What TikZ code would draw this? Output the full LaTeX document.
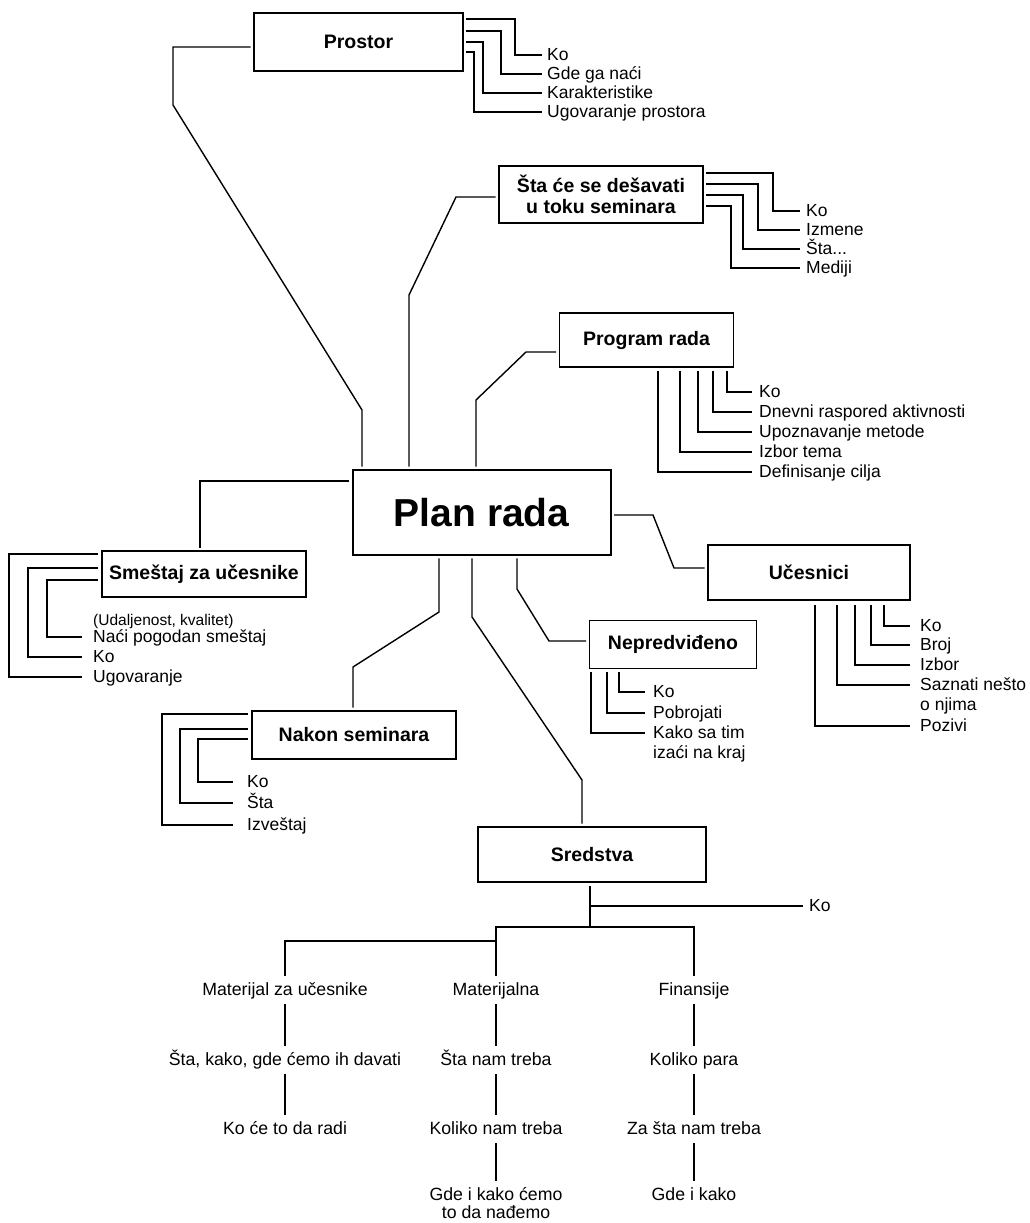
\documentclass[tikz,border=0pt]{standalone}
\usepackage{fontspec}
\setmainfont{Liberation Sans}
\newcommand{\labellines}[2][l]{\begin{tabular}[t]{@{}#1@{}}#2\end{tabular}}
\tikzset{
  box/.style={draw, line width=1.8pt, inner sep=0pt, align=center, font=\fontsize{19.5}{21}\selectfont\bfseries},
  link/.style={line width=1.4pt, shorten <=2.5pt, shorten >=2.5pt},
  branch/.style={line width=1.4pt},
  item/.style={anchor=west, inner sep=0pt, text height=13pt, text depth=3pt, font=\fontsize{17.5}{20}\selectfont},
  leaf/.style={inner xsep=0pt, inner ysep=6pt, text height=13pt, text depth=3pt, font=\fontsize{17.7}{20}\selectfont},
}
\begin{document}
\begin{tikzpicture}[x=1pt,y=-1pt]
\path[fill=white] (0,0) rectangle (1029,1223);
\useasboundingbox (0,0) rectangle (1029,1223);

% boxes
\node[box, minimum width=258pt, minimum height=85pt, font=\fontsize{39}{44}\selectfont\bfseries] (plan) at (481.7,512.5) {Plan rada};
\node[box, minimum width=209pt, minimum height=58pt] (prostor) at (358.5,41.7) {Prostor};
\node[box, minimum width=204pt, minimum height=57pt] (sta) at (601,194.5) {Šta će se dešavati\\u toku seminara};
\node[box, minimum width=174pt, minimum height=54pt] (program) at (646.5,340) {Program rada};
\node[box, minimum width=204pt, minimum height=46pt] (smestaj) at (204,574) {Smeštaj za učesnike};
\node[box, minimum width=202pt, minimum height=55pt] (ucesnici) at (809,572.5) {Učesnici};
\node[box, minimum width=167pt, minimum height=48pt] (nepred) at (673,644.5) {Nepredviđeno};
\node[box, minimum width=204pt, minimum height=48pt] (nakon) at (354,735) {Nakon seminara};
\node[box, minimum width=228pt, minimum height=55pt] (sredstva) at (592,854.5) {Sredstva};

% links from the plan
\draw[link] (plan.north -| 362,0) -- (362,410) -- (173,105) -- (173,47) -- (prostor.west |- 0,47);
\draw[link] (plan.north -| 409,0) -- (409,295) -- (456,197) -- (sta.west |- 0,197);
\draw[link] (plan.north -| 476,0) -- (476,400) -- (526,352) -- (program.west |- 0,352);
\draw[link] (plan.west |- 0,481) -| (smestaj.north -| 200,0);
\draw[link] (plan.east |- 0,515) -- (653,515) -- (674,568) -- (ucesnici.west |- 0,568);
\draw[link] (plan.south -| 517,0) -- (517,589) -- (549,641) -- (nepred.west |- 0,641);
\draw[link] (plan.south -| 439,0) -- (439,612) -- (353,667) -- (nakon.north -| 353,0);
\draw[link] (plan.south -| 472,0) -- (472,617) -- (582,780) -- (sredstva.north -| 582,0);

% Prostor
\foreach \txt/\sy/\vx/\ly [count=\i] in {Ko/19/515/55, Gde ga naći/31/501/74, Karakteristike/42/483/93, Ugovaranje prostora/52/474/112}{
  \node[item, inner xsep=5pt] (pr\i) at (542,\ly) {\txt};
  \draw[branch, shorten <=2pt] (prostor.east |- 0,\sy) -| (\vx,\ly) -- (pr\i.west);
}

% Sta ce se desavati
\foreach \txt/\sy/\vx/\ly [count=\i] in {Ko/173/773/211, Izmene/184/758/230, Šta.{}.{}./195/743/249, Mediji/206/731/268}{
  \node[item, inner xsep=6pt] (st\i) at (800,\ly) {\txt};
  \draw[branch, shorten <=2pt] (sta.east |- 0,\sy) -| (\vx,\ly) -- (st\i.west);
}

% Program rada
\foreach \txt/\vx/\ly [count=\i] in {Ko/727/392, Dnevni raspored aktivnosti/713/412, Upoznavanje metode/698/432, Izbor tema/680/452, Definisanje cilja/658/472}{
  \node[item, inner xsep=7pt] (pg\i) at (752,\ly) {\txt};
  \draw[branch, shorten <=3pt] (program.south -| \vx,0) -- (\vx,\ly) -- (pg\i.west);
}

% Ucesnici
\foreach \txt/\vx/\ly [count=\i] in {Ko/884/626, Broj/871/645, Izbor/855/665, {\labellines{Saznati nešto\\o njima}}/837/685, Pozivi/815/726}{
  \node[item, inner xsep=10pt] (uc\i) at (910,\ly) {\txt};
  \draw[branch, shorten <=4pt] (ucesnici.south -| \vx,0) -- (\vx,\ly) -- (uc\i.west);
}

% Nepredvideno
\foreach \txt/\vx/\ly [count=\i] in {Ko/619/692, Pobrojati/607/713, {\labellines{Kako sa tim\\izaći na kraj}}/591/733}{
  \node[item, inner xsep=8pt] (np\i) at (645,\ly) {\txt};
  \draw[branch, shorten <=3pt] (nepred.south -| \vx,0) -- (\vx,\ly) -- (np\i.west);
}

% Smestaj
\node[item, font=\fontsize{15.5}{18}\selectfont] (udalj) at (93,620) {(Udaljenost, kvalitet)};
\foreach \txt/\sy/\vx/\ly [count=\i] in {Naći pogodan smeštaj/580/47/637, Ko/568/28/657, Ugovaranje/554/9/677}{
  \node[item, inner xsep=11pt] (sm\i) at (82,\ly) {\txt};
  \draw[branch, shorten <=3pt] (smestaj.west |- 0,\sy) -| (\vx,\ly) -- (sm\i.west);
}

% Nakon seminara
\foreach \txt/\sy/\vx/\ly [count=\i] in {Ko/739/198/782, Šta/729/180/803, Izveštaj/714/162/825}{
  \node[item, inner xsep=14pt] (nk\i) at (233,\ly) {\txt};
  \draw[branch, shorten <=3pt] (nakon.west |- 0,\sy) -| (\vx,\ly) -- (nk\i.west);
}

% Sredstva
\node[leaf] (mat) at (285,990) {Materijal za učesnike};
\node[leaf] (mat2) at (285,1060) {Šta, kako, gde ćemo ih davati};
\node[leaf] (mat3) at (285,1129) {Ko će to da radi};
\node[leaf] (mtl) at (496,990) {Materijalna};
\node[leaf] (mtl2) at (496,1060) {Šta nam treba};
\node[leaf] (mtl3) at (496,1129) {Koliko nam treba};
\node[leaf, font=\fontsize{17.7}{18}\selectfont] (mtl4) at (496,1195) {\labellines[c]{Gde i kako ćemo\\to da nađemo}};
\node[leaf] (fin) at (694,990) {Finansije};
\node[leaf] (fin2) at (694,1060) {Koliko para};
\node[leaf] (fin3) at (694,1129) {Za šta nam treba};
\node[leaf] (fin4) at (694,1195) {Gde i kako};
\node[item, inner xsep=6pt] (sko) at (803,906) {Ko};

\draw[branch, shorten <=3pt] (sredstva.south -| 590,0) -- (590,927);
\draw[branch] (590,906) -- (sko.west);
\draw[branch] (mtl.north) -- (mtl.north |- 0,927) -| (fin.north);
\draw[branch] (mtl.north |- 0,941) -| (mat.north);
\draw[branch] (mat) -- (mat2);
\draw[branch] (mat2) -- (mat3);
\draw[branch] (mtl) -- (mtl2);
\draw[branch] (mtl2) -- (mtl3);
\draw[branch] (mtl3) -- (mtl4);
\draw[branch] (fin) -- (fin2);
\draw[branch] (fin2) -- (fin3);
\draw[branch] (fin3) -- (fin4);
\end{tikzpicture}
\end{document}
